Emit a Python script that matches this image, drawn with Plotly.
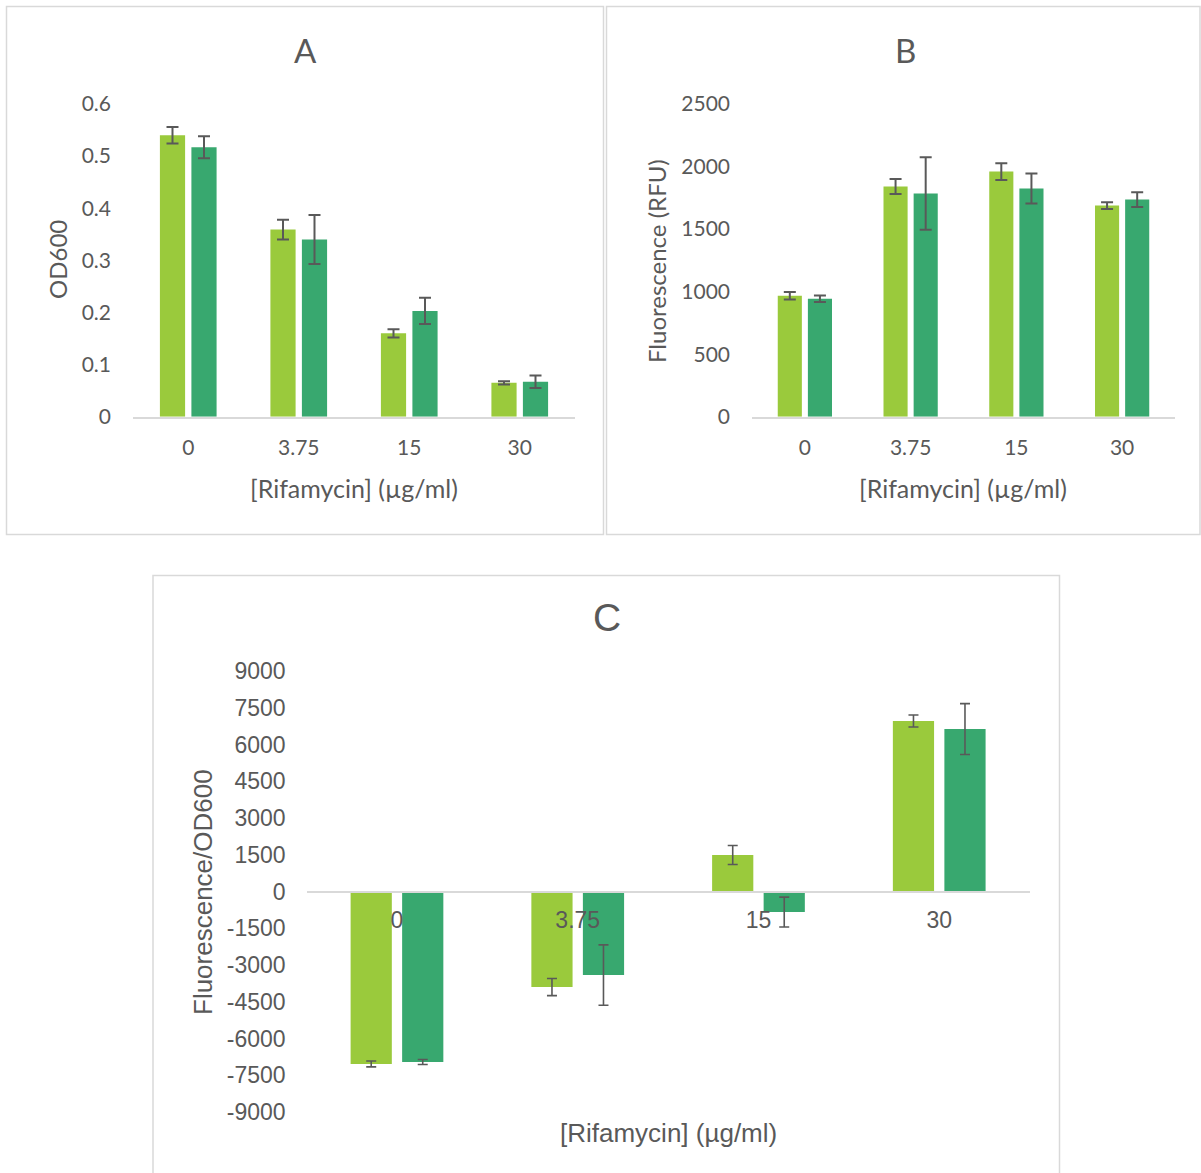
import plotly.graph_objects as go

# Rifamycin concentrations (µg/ml)
categories = ["0", "3.75", "15", "30"]

# A: optical density
od600_s1 = [0.540, 0.359, 0.160, 0.065]
od600_s1_err = [0.016, 0.019, 0.008, 0.003]
od600_s2 = [0.517, 0.340, 0.203, 0.067]
od600_s2_err = [0.021, 0.047, 0.025, 0.012]

# B: fluorescence (RFU)
rfu_s1 = [967, 1840, 1960, 1688]
rfu_s1_err = [30, 60, 67, 27]
rfu_s2 = [943, 1784, 1824, 1736]
rfu_s2_err = [25, 290, 120, 59]

# C: fluorescence normalised to OD600
ratio_s1 = [-7040, -3900, 1490, 6960]
ratio_s1_err = [120, 350, 390, 245]
ratio_s2 = [-6960, -3410, -840, 6630]
ratio_s2_err = [100, 1230, 610, 1040]

ratio_ticks = [-9000, -7500, -6000, -4500, -3000, -1500, 0, 1500, 3000, 4500, 6000, 7500, 9000]

W, H = 1201, 1173
LIGHT = "#9ACA3C"
DARK = "#38A86F"
ERR = "#595959"
TXT = "#595959"
AXIS = "#D9D9D9"
FONT_AB = "Lato"
FONT_C = "Liberation Sans"


def fx(x):
    return x / W


def fy(y):
    return 1 - y / H


fig = go.Figure()


def add_pair(xa, ya, v1, e1, v2, e2, thick, cap):
    for vals, errs, col, name in ((v1, e1, LIGHT, "Series 1"), (v2, e2, DARK, "Series 2")):
        fig.add_trace(go.Bar(
            x=categories, y=vals, name=name, marker=dict(color=col, line=dict(width=0)),
            error_y=dict(type="data", array=errs, color=ERR, thickness=thick, width=cap),
            xaxis=xa, yaxis=ya, showlegend=False,
        ))


add_pair("x", "y", od600_s1, od600_s1_err, od600_s2, od600_s2_err, 2, 6)
add_pair("x2", "y2", rfu_s1, rfu_s1_err, rfu_s2, rfu_s2_err, 2, 6)
add_pair("x3", "y3", ratio_s1, ratio_s1_err, ratio_s2, ratio_s2_err, 1.6, 5)

tick_ab = dict(family=FONT_AB, size=21, color=TXT)
tick_c = dict(family=FONT_C, size=23, color=TXT)

xcommon = dict(type="category", showline=True, linecolor=AXIS, linewidth=2,
               ticks="", showgrid=False, zeroline=False, fixedrange=True, automargin=False)
ycommon = dict(showline=False, showgrid=False, zeroline=False, ticks="",
               fixedrange=True, automargin=False)

ydom_ab = [fy(416.7), fy(104)]
ydom_c = [fy(1112), fy(671)]

fig.update_layout(
    width=W, height=H,
    margin=dict(l=0, r=0, t=0, b=0, pad=0, autoexpand=False),
    paper_bgcolor="white", plot_bgcolor="rgba(0,0,0,0)",
    barmode="group", bargap=0.43, bargroupgap=0.2,
    xaxis=dict(xcommon, domain=[fx(133), fx(575)], anchor="y",
               tickfont=tick_ab, ticklabelstandoff=11),
    yaxis=dict(ycommon, domain=ydom_ab, anchor="x", range=[0, 0.6], dtick=0.1,
               tickfont=tick_ab, ticklabelstandoff=21),
    xaxis2=dict(xcommon, domain=[fx(752), fx(1175)], anchor="y2",
                tickfont=tick_ab, ticklabelstandoff=11),
    yaxis2=dict(ycommon, domain=ydom_ab, anchor="x2", range=[0, 2500], dtick=500,
                tickfont=tick_ab, ticklabelstandoff=21),
    xaxis3=dict(xcommon, domain=[fx(306.6), fx(1029.6)], anchor="free",
                position=(ydom_c[0] + ydom_c[1]) / 2,
                tickfont=tick_c, ticklabelstandoff=8),
    yaxis3=dict(ycommon, domain=ydom_c, anchor="x3", range=[-9000, 9000],
                tickvals=ratio_ticks, ticktext=[str(v) for v in ratio_ticks],
                tickfont=tick_c, ticklabelstandoff=20),
)

# Panel frames
frames = [(6.5, 6.5, 603.5, 534.5), (606.5, 6.5, 1200, 534.5), (153, 575.5, 1059.5, 1185)]
for x0, y0, x1, y1 in frames:
    fig.add_shape(type="rect", xref="paper", yref="paper",
                  x0=fx(x0), x1=fx(x1), y0=fy(y0), y1=fy(y1),
                  line=dict(color=AXIS, width=1.5), fillcolor="rgba(0,0,0,0)", layer="below")

# Panel titles and axis titles
labels = [
    ("A", 305, 50, 0, dict(family=FONT_AB, size=33, color=TXT)),
    ("B", 905, 50, 0, dict(family=FONT_AB, size=33, color=TXT)),
    ("C", 607, 617, 0, dict(family=FONT_C, size=39, color=TXT)),
    ("[Rifamycin] (µg/ml)", 354, 488, 0, dict(family=FONT_AB, size=25, color=TXT)),
    ("[Rifamycin] (µg/ml)", 963, 488, 0, dict(family=FONT_AB, size=25, color=TXT)),
    ("[Rifamycin] (µg/ml)", 668, 1133, 0, dict(family=FONT_C, size=26, color=TXT)),
    ("OD600", 58, 260, -90, dict(family=FONT_AB, size=24, color=TXT)),
    ("Fluorescence (RFU)", 657, 261, -90, dict(family=FONT_AB, size=24, color=TXT)),
    ("Fluorescence/OD600", 203, 892, -90, dict(family=FONT_C, size=26, color=TXT)),
]
for text, x, y, ang, font in labels:
    fig.add_annotation(text=text, xref="paper", yref="paper", x=fx(x), y=fy(y),
                       xanchor="center", yanchor="middle", showarrow=False,
                       textangle=ang, font=font)

fig.write_html("out.html")
